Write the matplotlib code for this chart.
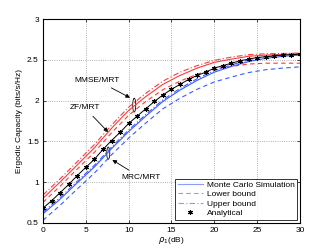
import matplotlib
matplotlib.use("Agg")
import matplotlib.pyplot as plt
from matplotlib.patches import Ellipse

plt.rcParams['font.family'] = ['Liberation Sans', 'DejaVu Sans']

# ---- data ----
snr_db = [0, 2, 4, 6, 8, 10, 12, 14, 16, 18, 20, 22, 24, 26, 28, 30]
snr_marker = list(range(0, 31))

zf_analytical = [0.68, 0.77, 0.87, 0.97, 1.08, 1.18, 1.28, 1.40, 1.51, 1.61,
                 1.72, 1.81, 1.90, 1.99, 2.07, 2.14, 2.20, 2.26, 2.31, 2.35,
                 2.40, 2.43, 2.46, 2.49, 2.51, 2.53, 2.54, 2.55, 2.56, 2.565, 2.57]

mmse_mc = [0.80, 1.00, 1.21, 1.42, 1.66, 1.88, 2.05, 2.20, 2.31, 2.40, 2.47, 2.51, 2.545, 2.56, 2.57, 2.575]
mmse_upper = [0.84, 1.04, 1.25, 1.46, 1.70, 1.92, 2.09, 2.24, 2.35, 2.43, 2.495, 2.535, 2.565, 2.575, 2.58, 2.585]
mmse_lower = [0.75, 0.95, 1.16, 1.365, 1.605, 1.82, 1.99, 2.135, 2.24, 2.325, 2.39, 2.42, 2.45, 2.46, 2.46, 2.46]

mrc_mc = [0.61, 0.79, 0.99, 1.185, 1.41, 1.62, 1.81, 1.99, 2.13, 2.25, 2.35, 2.42, 2.48, 2.52, 2.545, 2.56]
mrc_upper = [0.63, 0.81, 1.01, 1.205, 1.43, 1.64, 1.83, 2.01, 2.15, 2.27, 2.37, 2.44, 2.50, 2.54, 2.56, 2.575]
mrc_lower = [0.53, 0.715, 0.915, 1.11, 1.335, 1.54, 1.725, 1.90, 2.03, 2.14, 2.23, 2.29, 2.345, 2.38, 2.40, 2.415]

x_ticks = [0, 5, 10, 15, 20, 25, 30]
y_ticks = [0.5, 1, 1.5, 2, 2.5, 3]
y_ticklabels = ["0.5", "1", "1.5", "2", "2.5", "3"]

RED = "#ff3a3a"
BLUE = "#3a5aff"
FS = 6

fig = plt.figure(figsize=(3.32, 2.5), dpi=100)
ax = fig.add_axes([0.1295, 0.109, 0.774, 0.814])

lw = 0.8
ax.plot(snr_db, mmse_mc, color=RED, lw=lw, ls="-")
ax.plot(snr_db, mmse_lower, color=RED, lw=lw, ls=(0, (4, 3)))
ax.plot(snr_db, mmse_upper, color=RED, lw=lw, ls=(0, (5, 2, 1, 2)))

ax.plot(snr_db, mrc_mc, color=BLUE, lw=lw, ls="-")
ax.plot(snr_db, mrc_lower, color=BLUE, lw=lw, ls=(0, (4, 3)))
ax.plot(snr_db, mrc_upper, color=BLUE, lw=lw, ls=(0, (5, 2, 1, 2)))

ax.plot(snr_marker, zf_analytical, color="black", lw=0.7, ls="-",
        marker=(6, 2, 0), ms=3.5, mew=0.8, mec="black")

# legend proxies
h1, = ax.plot([], [], color=BLUE, lw=lw, ls="-", alpha=0.6, label="Monte Carlo Simulation")
h2, = ax.plot([], [], color=BLUE, lw=lw, ls=(0, (4, 3)), alpha=0.6, label="Lower bound")
h3, = ax.plot([], [], color=BLUE, lw=lw, ls=(0, (5, 2, 1, 2)), alpha=0.6, label="Upper bound")
h4, = ax.plot([], [], color="black", ls="none", marker=(6, 2, 0), ms=3.5, mew=0.8, label="Analytical")
leg = ax.legend(handles=[h1, h2, h3, h4], loc="lower right", fontsize=FS,
                frameon=True, fancybox=False, edgecolor="black",
                borderpad=0.3, labelspacing=0.2, handlelength=3.0,
                handletextpad=0.5, borderaxespad=0.35)
leg.get_frame().set_linewidth(0.7)

# ellipses + annotations
ax.add_patch(Ellipse((10.65, 1.945), 0.35, 0.17, fill=False, lw=0.6, ec="black"))
ax.add_patch(Ellipse((7.62, 1.355), 0.35, 0.15, fill=False, lw=0.6, ec="black"))

arrowprops = dict(arrowstyle="-|>", color="black", lw=0.6, mutation_scale=6)
ax.annotate("MMSE/MRT", xy=(10.45, 2.02), xytext=(6.3, 2.25), fontsize=FS,
            ha="center", va="center", arrowprops=arrowprops)
ax.annotate("ZF/MRT", xy=(7.82, 1.59), xytext=(4.9, 1.91), fontsize=FS,
            ha="center", va="center", arrowprops=arrowprops)
ax.annotate("MRC/MRT", xy=(7.82, 1.29), xytext=(11.5, 1.05), fontsize=FS,
            ha="center", va="center", arrowprops=arrowprops)

ax.set_xlim(0, 30)
ax.set_ylim(0.5, 3)
ax.set_xticks(x_ticks)
ax.set_yticks(y_ticks)
ax.set_yticklabels(y_ticklabels)
ax.tick_params(direction="in", labelsize=FS, length=2.5, width=0.5,
               top=True, right=True, pad=3)
ax.grid(True, ls=":", color="#999999", lw=0.6)
for s in ax.spines.values():
    s.set_linewidth(0.8)

ax.set_xlabel(r"$\rho_1$(dB)", fontsize=FS, labelpad=1)
ax.set_ylabel("Ergodic Capacity (bits/s/Hz)", fontsize=FS, labelpad=3)

fig.savefig("out.png", dpi=100)
